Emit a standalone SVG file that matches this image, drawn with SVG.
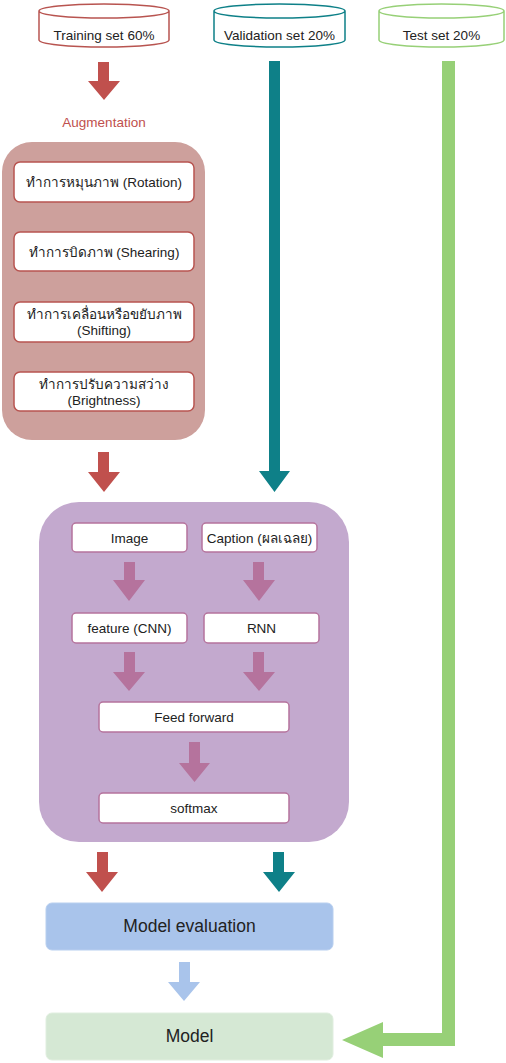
<svg xmlns="http://www.w3.org/2000/svg" width="506" height="1063" viewBox="0 0 506 1063">
<style>
text{font-family:"Liberation Sans","Noto Sans","DejaVu Sans",sans-serif;font-size:13.5px;fill:#222;text-anchor:middle;dominant-baseline:central}
.cyl{fill:#fff;stroke-width:1.5}
.aug{fill:#fff;stroke:#B85450;stroke-width:1.5}
.pin{fill:#fff;stroke:#B5739D;stroke-width:1.5}
.red{fill:#C0504D}
.teal{fill:#0E8088}
.pk{fill:#B5739D}
.blu{fill:#A9C4EB}
.big{font-size:17.5px}
</style>
<g id="training">
<path class="cyl" stroke="#B85450" d="M39,11 A65,7 0 0 1 169,11 V40 A65,7 0 0 1 39,40 Z M39,11 A65,7 0 0 0 169,11"/>
<text x="104" y="35">Training set 60%</text>
</g>
<g id="validation">
<path class="cyl" stroke="#0E8088" d="M214,11 A65.5,7 0 0 1 345,11 V40 A65.5,7 0 0 1 214,40 Z M214,11 A65.5,7 0 0 0 345,11"/>
<text x="279.5" y="35">Validation set 20%</text>
</g>
<g id="test">
<path class="cyl" stroke="#97D077" d="M379,11 A62.5,7 0 0 1 504,11 V40 A62.5,7 0 0 1 379,40 Z M379,11 A62.5,7 0 0 0 504,11"/>
<text x="441.5" y="35">Test set 20%</text>
</g>
<g id="augmentation-label">
<text x="104" y="122" style="fill:#C0504D">Augmentation</text>
</g>
<g id="augmentation">
<rect x="2" y="142" width="203" height="298" rx="30" fill="#CDA09C"/>
</g>
<g id="rotation"><rect class="aug" x="14" y="162" width="180" height="40" rx="6"/><text x="104" y="182">ทำการหมุนภาพ (Rotation)</text></g>
<g id="shearing"><rect class="aug" x="14" y="232" width="180" height="39" rx="6"/><text x="104" y="252">ทำการบิดภาพ (Shearing)</text></g>
<g id="shifting"><rect class="aug" x="14" y="302" width="180" height="40" rx="6"/><text x="104" y="314">ทำการเคลื่อนหรือขยับภาพ</text><text x="104" y="330">(Shifting)</text></g>
<g id="brightness"><rect class="aug" x="14" y="372" width="180" height="39" rx="6"/><text x="104" y="384">ทำการปรับความสว่าง</text><text x="104" y="400">(Brightness)</text></g>
<g id="model-box">
<rect x="39" y="502" width="310" height="340" rx="40" fill="#C3A9CE"/>
</g>
<g id="image"><rect class="pin" x="72" y="523" width="115" height="29" rx="4"/><text x="129.5" y="538">Image</text></g>
<g id="caption"><rect class="pin" x="202" y="523" width="115" height="29" rx="4"/><text x="259.5" y="538">Caption (ผลเฉลย)</text></g>
<g id="feature"><rect class="pin" x="72" y="613" width="115" height="30" rx="4"/><text x="129.5" y="628">feature (CNN)</text></g>
<g id="rnn"><rect class="pin" x="204" y="613" width="115" height="30" rx="4"/><text x="261.5" y="628">RNN</text></g>
<g id="feedforward"><rect class="pin" x="99" y="702" width="190" height="30" rx="4"/><text x="194" y="717">Feed forward</text></g>
<g id="softmax"><rect class="pin" x="99" y="793" width="190" height="30" rx="4"/><text x="194" y="808">softmax</text></g>
<g id="evaluation"><rect x="46" y="903" width="287" height="47" rx="6" fill="#A9C4EB" stroke="#B8CFEF"/><text class="big" x="189.5" y="926">Model evaluation</text></g>
<g id="model"><rect x="46" y="1013" width="287" height="47" rx="6" fill="#D5E8D4" stroke="#E0EEDF"/><text class="big" x="189.5" y="1036">Model</text></g>
<g id="connectors">
<polygon class="red" points="98,62 109,62 109,81 120,81 104,100 88,81 98,81"/>
<polygon class="teal" points="269,61 280,61 280,471 290,471 274.5,492 259,471 269,471"/>
<polygon fill="#97D077" points="442,61 455,61 455,1046 383,1046 383,1058 342,1040 383,1022 383,1033 442,1033"/>
<polygon class="red" points="98,452 109,452 109,472 120,472 104,492 88,472 98,472"/>
<polygon class="pk" points="124,562 135,562 135,580 145,580 129,601 113,580 124,580"/>
<polygon class="pk" points="253,562 264,562 264,580 275,580 259,601 243,580 253,580"/>
<polygon class="pk" points="124,652 135,652 135,672 145,672 129,691 113,672 124,672"/>
<polygon class="pk" points="253,652 264,652 264,672 275,672 259,691 243,672 253,672"/>
<polygon class="pk" points="189,742 200,742 200,763 210,763 194.5,782 179,763 189,763"/>
<polygon class="red" points="97,852 108,852 108,872 118,872 102,892 86,872 97,872"/>
<polygon class="teal" points="273,852 284,852 284,872 295,872 279,892 263,872 273,872"/>
<polygon class="blu" points="179,962 190,962 190,982 200,982 184,1001 168,982 179,982"/>
</g>
</svg>
